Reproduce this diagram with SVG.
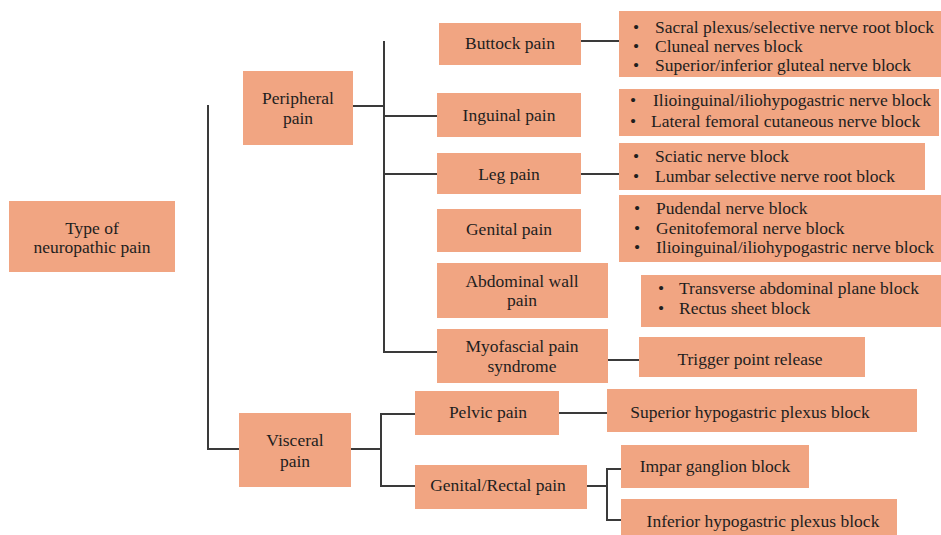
<svg xmlns="http://www.w3.org/2000/svg" width="941" height="535" viewBox="0 0 941 535">
<style>
.b{fill:#F1A582;}
.t{font-family:'Liberation Serif','DejaVu Serif',serif;font-size:17.5px;fill:#1e1e1e;}
.c{text-anchor:middle;}
.l{fill:none;stroke:#3a3a3a;stroke-width:2;}
</style>
<rect width="941" height="535" fill="#ffffff"/>
<g id="connectors">
<path class="l" d="M208,105 V449 H239" stroke="#555" stroke-width="1.6"/>
<path class="l" d="M353,106 H384 M384,41 V352 H437 M384,116 H437 M384,174 H437"/>
<path class="l" d="M581,41 H619 M581,174 H619 M608,360 H639"/>
<path class="l" d="M351,449 H381 M415,414 H381 V486 H415"/>
<path class="l" d="M559,413 H607 M587,486 H607 M621,469 H607 V520 H621"/>
</g>
<g id="root"><rect class="b" x="9" y="201" width="166" height="71"/><text class="t c" x="92" y="234">Type of</text><text class="t c" x="92" y="253">neuropathic pain</text></g>
<g id="peripheral"><rect class="b" x="243" y="71" width="110" height="74"/><text class="t c" x="298" y="104">Peripheral</text><text class="t c" x="298" y="124">pain</text></g>
<g id="visceral"><rect class="b" x="239" y="413" width="112" height="74"/><text class="t c" x="295" y="446">Visceral</text><text class="t c" x="295" y="467">pain</text></g>
<g id="buttock"><rect class="b" x="439" y="23" width="142" height="42"/><text class="t c" x="510" y="49">Buttock pain</text></g>
<g id="inguinal"><rect class="b" x="437" y="93" width="144" height="44"/><text class="t c" x="509" y="121">Inguinal pain</text></g>
<g id="leg"><rect class="b" x="437" y="153" width="144" height="41"/><text class="t c" x="509" y="180">Leg pain</text></g>
<g id="genital"><rect class="b" x="437" y="209" width="144" height="43"/><text class="t c" x="509" y="235">Genital pain</text></g>
<g id="abdominal"><rect class="b" x="437" y="263" width="171" height="55"/><text class="t c" x="522" y="287">Abdominal wall</text><text class="t c" x="522" y="306">pain</text></g>
<g id="myofascial"><rect class="b" x="437" y="329" width="171" height="54"/><text class="t c" x="522" y="352">Myofascial pain</text><text class="t c" x="522" y="372">syndrome</text></g>
<g id="buttock-tx"><rect class="b" x="619" y="11" width="322" height="66"/>
<text class="t" x="633" y="33">•</text><text class="t" x="655" y="33">Sacral plexus/selective nerve root block</text>
<text class="t" x="633" y="52">•</text><text class="t" x="655" y="52">Cluneal nerves block</text>
<text class="t" x="633" y="71">•</text><text class="t" x="655" y="71">Superior/inferior gluteal nerve block</text></g>
<g id="inguinal-tx"><rect class="b" x="619" y="89" width="320" height="47"/>
<text class="t" x="630" y="106">•</text><text class="t" x="653" y="106">Ilioinguinal/iliohypogastric nerve block</text>
<text class="t" x="630" y="127">•</text><text class="t" x="651" y="127">Lateral femoral cutaneous nerve block</text></g>
<g id="leg-tx"><rect class="b" x="619" y="143" width="306" height="47"/>
<text class="t" x="633" y="162">•</text><text class="t" x="655" y="162">Sciatic nerve block</text>
<text class="t" x="633" y="182">•</text><text class="t" x="655" y="182">Lumbar selective nerve root block</text></g>
<g id="genital-tx"><rect class="b" x="619" y="195" width="322" height="67"/>
<text class="t" x="634" y="214">•</text><text class="t" x="656" y="214">Pudendal nerve block</text>
<text class="t" x="634" y="234">•</text><text class="t" x="656" y="234">Genitofemoral nerve block</text>
<text class="t" x="634" y="253">•</text><text class="t" x="656" y="253">Ilioinguinal/iliohypogastric nerve block</text></g>
<g id="abdominal-tx"><rect class="b" x="641" y="275" width="300" height="52"/>
<text class="t" x="658" y="294">•</text><text class="t" x="679" y="294">Transverse abdominal plane block</text>
<text class="t" x="658" y="314">•</text><text class="t" x="679" y="314">Rectus sheet block</text></g>
<g id="trigger"><rect class="b" x="639" y="337" width="226" height="40"/><text class="t c" x="750" y="365">Trigger point release</text></g>
<g id="pelvic"><rect class="b" x="415" y="391" width="144" height="44"/><text class="t c" x="488" y="418">Pelvic pain</text></g>
<g id="genital-rectal"><rect class="b" x="415" y="465" width="172" height="44"/><text class="t c" x="498" y="491">Genital/Rectal pain</text></g>
<g id="superior-hypogastric"><rect class="b" x="607" y="389" width="310" height="43"/><text class="t c" x="750" y="418">Superior hypogastric plexus block</text></g>
<g id="impar"><rect class="b" x="621" y="445" width="188" height="43"/><text class="t c" x="715" y="472">Impar ganglion block</text></g>
<g id="inferior-hypogastric"><rect class="b" x="621" y="499" width="276" height="40"/><text class="t c" x="763" y="527">Inferior hypogastric plexus block</text></g>
</svg>
